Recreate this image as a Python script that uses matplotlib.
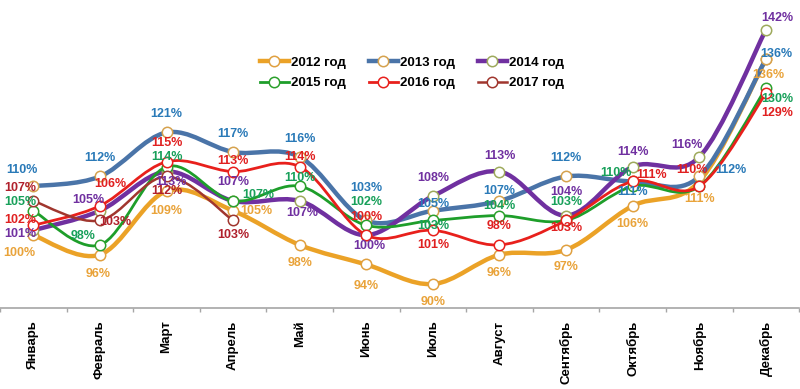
import matplotlib
matplotlib.use("Agg")
import matplotlib.pyplot as plt
import numpy as np
from matplotlib.path import Path
from matplotlib.patches import PathPatch
from matplotlib.lines import Line2D

plt.rcParams['font.family'] = ['Liberation Sans', 'DejaVu Sans']

months = ["Январь", "Февраль", "Март", "Апрель", "Май", "Июнь",
          "Июль", "Август", "Сентябрь", "Октябрь", "Ноябрь", "Декабрь"]

y2012 = [100, 96, 109, 105, 98, 94, 90, 96, 97, 106, 111, 136]
y2013 = [110, 112, 121, 117, 116, 103, 105, 107, 112, 111, 112, 136]
y2014 = [101, 105, 113, 107, 107, 100, 108, 113, 104, 114, 116, 142]
y2015 = [105, 98, 114, 107, 110, 102, 103, 104, 103, 110, 110, 130]
y2016 = [102, 106, 115, 113, 114, 100, 101, 98, 103, 111, 110, 129]
y2017 = [107, 103, 112, 103]

names = ["2012 год", "2013 год", "2014 год", "2015 год", "2016 год", "2017 год"]
series = [y2012, y2013, y2014, y2015, y2016, y2017]

# styles: line colour, line width, marker edge, label colour
line_col = ["#EBA227", "#4A74A8", "#7030A0", "#1E9E2A", "#E8201C", "#A0362E"]
line_w = [3.2, 3.2, 3.2, 2.0, 2.0, 1.8]
mk_edge = ["#E0A040", "#D6A24E", "#9EAA5C", "#2CA02C", "#E8201C", "#A0362E"]
lab_col = ["#E9A33A", "#2A7AB8", "#7030A0", "#18A05A", "#E02020", "#B0202C"]

# label offsets in pixels (dx, dy up), None = no label
offs = [
    [(-14, -18), (-2, -19), (0, -20), (23, 0), (0, -18), (0, -22), (0, -18),
     (0, -18), (0, -17), (0, -18), (0, -18), (2, -16)],
    [(-11, 16), (0, 18), (0, 18), (0, 18), (0, 18), (0, 32), (0, 7),
     (0, 10), (0, 18), (0, -11), (32, 6), (10, 5)],
    [(-13, -4), (-12, 11), (4, -10), (0, 19), (3, -12), (3, -11), (0, 18),
     (0, 16), (0, 24), (0, 15), (-12, 12), (11, 12)],
    [(-13, 9), (-17, 9), (0, 10), (25, 6), (0, 8), (0, 23), (0, -6),
     (0, 10), (0, 18), (-17, 13), None, (11, -11)],
    [(-13, 5), (10, 22), (0, 19), (0, 11), (0, 10), (0, 18), (0, -15),
     (0, 19), (0, -8), (19, 6), (-7, 16), (11, -20)],
    [(-13, 13), (15, -2), (0, -15), (0, -15)],
]


def smooth_path(x, y):
    # Excel-like smoothed line: cubic bezier segments through the points
    pts = np.column_stack([x, y]).astype(float)
    n = len(pts)
    verts = [pts[0]]
    codes = [Path.MOVETO]
    for i in range(n - 1):
        p0 = pts[i - 1] if i > 0 else pts[i]
        p1 = pts[i]
        p2 = pts[i + 1]
        p3 = pts[i + 2] if i + 2 < n else pts[i + 1]
        c1 = p1 + (p2 - p0) / 6.0
        c2 = p2 - (p3 - p1) / 6.0
        verts += [c1, c2, p2]
        codes += [Path.CURVE4] * 3
    return Path(verts, codes)


fig = plt.figure(figsize=(8.0, 3.89), dpi=100)
ax = fig.add_axes([0.0, 1 - 308 / 389, 0.999, 308 / 389])

for k, ys in enumerate(series):
    xs = np.arange(len(ys))
    ax.add_patch(PathPatch(smooth_path(xs, ys), fill=False, edgecolor=line_col[k],
                           lw=line_w[k], capstyle='round', joinstyle='round', zorder=2 + k))
    ax.plot(xs, ys, 'o', ms=7.5, mfc='white', mec=mk_edge[k], mew=1.1, zorder=2.5 + k)

for k, ys in enumerate(series):
    for i, v in enumerate(ys):
        if offs[k][i] is None:
            continue
        ax.annotate(f"{v}%", (i, v), xytext=offs[k][i], textcoords='offset pixels',
                    ha='center', va='center', fontsize=9, fontweight='bold',
                    color=lab_col[k], zorder=20)

ax.set_xlim(-0.5, 11.5)
ax.set_ylim(85.1, 148.1)
ax.set_yticks([])
for s in ['top', 'right', 'left']:
    ax.spines[s].set_visible(False)
ax.spines['bottom'].set_color('#A6A6A6')
ax.spines['bottom'].set_linewidth(1.2)

ax.set_xticks(np.arange(-0.5, 12, 1))
ax.set_xticklabels([])
ax.tick_params(axis='x', length=3, color='#A6A6A6', width=1)
ax.set_xticks(np.arange(12), minor=True)
ax.set_xticklabels(months, minor=True, rotation=90, fontsize=9.5, fontweight='bold',
                   va='top', ha='center')
ax.tick_params(axis='x', which='minor', length=0, pad=9)

handles = [Line2D([], [], color=line_col[k], lw=line_w[k], marker='o', ms=7.5,
                  mfc='white', mec=mk_edge[k], mew=1.1) for k in range(6)]
# legend fills column-wise, reorder so rows read 2012-2014 / 2015-2017
order = [0, 3, 1, 4, 2, 5]
leg = fig.legend([handles[i] for i in order], [names[i] for i in order], ncol=3,
                 loc='center', bbox_to_anchor=(412 / 800, 1 - 73 / 389),
                 frameon=False, prop={'size': 9.5, 'weight': 'bold'}, handlelength=2.2,
                 handletextpad=0.2, columnspacing=1.7, labelspacing=0.6)

fig.savefig("out.png", dpi=100)
